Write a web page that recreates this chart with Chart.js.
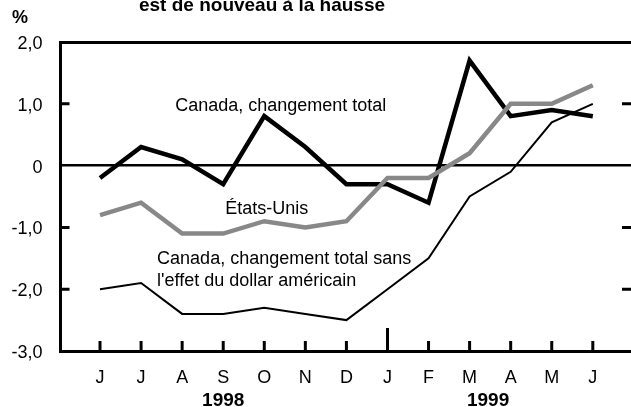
<!DOCTYPE html>
<html>
<head>
<meta charset="utf-8">
<script src="https://cdn.jsdelivr.net/npm/chart.js@4"></script>
<style>
  html, body { margin: 0; padding: 0; background: #fff; }
  #wrap { width: 631px; height: 407px; }
</style>
</head>
<body>
<div id="wrap"><canvas id="chart" width="631" height="407"></canvas></div>
<script>
// mois de juin 1998 à juin 1999
const months = ['J', 'J', 'A', 'S', 'O', 'N', 'D', 'J', 'F', 'M', 'A', 'M', 'J'];
const yearLabels = ['1998', '1999'];
const yTicks = [2, 1, 0, -1, -2, -3];

// séries (%)
const canadaTotal = [-0.2, 0.3, 0.1, -0.3, 0.8, 0.3, -0.3, -0.3, -0.6, 1.7, 0.8, 0.9, 0.8];
const etatsUnis = [-0.8, -0.6, -1.1, -1.1, -0.9, -1.0, -0.9, -0.2, -0.2, 0.2, 1.0, 1.0, 1.3];
const canadaSansDollar = [-2.0, -1.9, -2.4, -2.4, -2.3, -2.4, -2.5, -2.0, -1.5, -0.5, -0.1, 0.7, 1.0];

const FONT = "'Liberation Sans', Arial, sans-serif";
Chart.defaults.font.family = FONT;
Chart.defaults.font.size = 18;
Chart.defaults.color = '#000';

function toPoints(arr) {
    return arr.map((v, i) => ({ x: i, y: v }));
}

function fmtY(v) {
    if (v === 0) return '0';
    return v.toFixed(1).replace('.', ',');
}

// textes, petits traits intérieurs, titre
const decorPlugin = {
    id: 'decor',
    afterDraw(chart) {
        const ctx = chart.ctx;
        const x = chart.scales.x;
        const y = chart.scales.y;
        const area = chart.chartArea;
        ctx.save();
        ctx.strokeStyle = '#000';
        ctx.lineWidth = 3;
        // traits de l'axe des y (gauche et droite)
        [1, -1, -2].forEach(v => {
            const py = y.getPixelForValue(v);
            ctx.beginPath();
            ctx.moveTo(area.left, py);
            ctx.lineTo(area.left + 9, py);
            ctx.moveTo(area.right - 9, py);
            ctx.lineTo(area.right, py);
            ctx.stroke();
        });
        // traits de l'axe des x
        months.forEach((m, i) => {
            const px = x.getPixelForValue(i);
            const len = i === 7 ? 23 : 10;
            ctx.beginPath();
            ctx.moveTo(px, area.bottom);
            ctx.lineTo(px, area.bottom - len);
            ctx.stroke();
        });

        ctx.fillStyle = '#000';
        ctx.textBaseline = 'alphabetic';
        // titre (coupé en haut)
        ctx.font = 'bold 19px ' + FONT;
        ctx.textAlign = 'center';
        ctx.fillText('est de nouveau à la hausse', 262, 11);
        ctx.font = 'bold 18px ' + FONT;
        ctx.textAlign = 'left';
        ctx.fillText('%', 12, 23);

        // années
        ctx.font = 'bold 19px ' + FONT;
        ctx.textAlign = 'center';
        ctx.fillText(yearLabels[0], x.getPixelForValue(3), 406);
        ctx.fillText(yearLabels[1], x.getPixelForValue(9.45), 406);

        // étiquettes des séries
        ctx.font = '18px ' + FONT;
        ctx.textAlign = 'left';
        ctx.fillText('Canada, changement total', x.getPixelForValue(1.83), y.getPixelForValue(0.89));
        ctx.fillText('États-Unis', x.getPixelForValue(3.05), y.getPixelForValue(-0.78));
        ctx.fillText('Canada, changement total sans', x.getPixelForValue(1.39), y.getPixelForValue(-1.59));
        ctx.fillText("l'effet du dollar américain", x.getPixelForValue(1.39), y.getPixelForValue(-1.95));
        ctx.restore();
    }
};

new Chart(document.getElementById('chart'), {
    type: 'line',
    data: {
        datasets: [{
            label: 'Canada, changement total sans l\'effet du dollar américain',
            data: toPoints(canadaSansDollar),
            borderColor: '#000',
            borderWidth: 2,
            pointRadius: 0,
            tension: 0,
            borderJoinStyle: 'miter'
        }, {
            label: 'États-Unis',
            data: toPoints(etatsUnis),
            borderColor: '#888888',
            borderWidth: 4.5,
            pointRadius: 0,
            tension: 0,
            borderJoinStyle: 'miter'
        }, {
            label: 'Canada, changement total',
            data: toPoints(canadaTotal),
            borderColor: '#000',
            borderWidth: 4.5,
            pointRadius: 0,
            tension: 0,
            borderJoinStyle: 'miter'
        }]
    },
    options: {
        responsive: false,
        animation: false,
        devicePixelRatio: 1,
        layout: { padding: { top: 42, right: 0, bottom: 0, left: 0 } },
        plugins: {
            legend: { display: false },
            tooltip: { enabled: false }
        },
        scales: {
            x: {
                type: 'linear',
                min: -0.962,
                max: 12.93,
                afterBuildTicks: scale => {
                    scale.ticks = months.map((m, i) => ({ value: i }));
                },
                afterFit: scale => { scale.height = 56; },
                ticks: {
                    autoSkip: false,
                    maxRotation: 0,
                    padding: 16,
                    callback: v => months[v]
                },
                grid: { display: true, drawOnChartArea: false, drawTicks: false },
                border: { display: true, color: '#000', width: 3 }
            },
            y: {
                min: -3,
                max: 2,
                afterBuildTicks: scale => {
                    scale.ticks = yTicks.map(v => ({ value: v }));
                },
                afterFit: scale => { scale.width = 60.5; },
                ticks: {
                    padding: 18,
                    labelOffset: 2,
                    callback: v => fmtY(v)
                },
                grid: {
                    drawTicks: false,
                    color: c => (c.tick && (c.tick.value === 2 || c.tick.value === 0)) ? '#000' : 'rgba(0,0,0,0)',
                    lineWidth: c => (c.tick && c.tick.value === 2) ? 3 : 2.5
                },
                border: { display: true, color: '#000', width: 3 }
            }
        }
    },
    plugins: [decorPlugin]
});
</script>
</body>
</html>
